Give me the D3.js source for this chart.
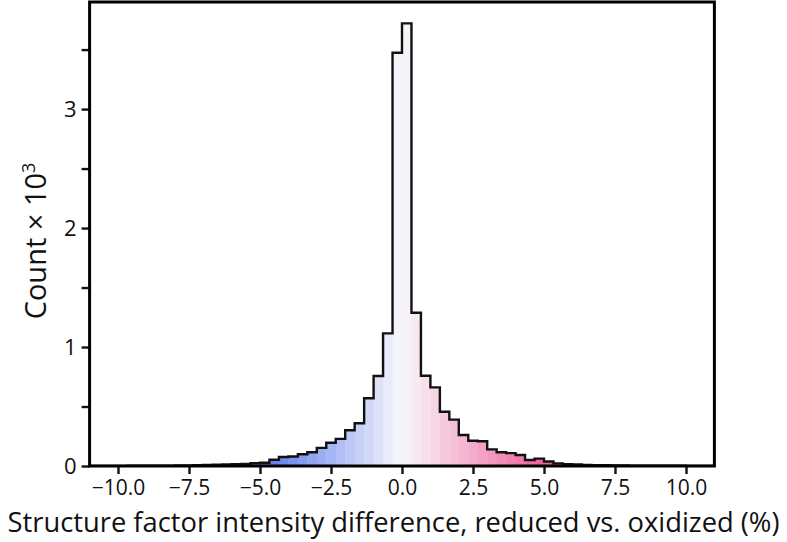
<!DOCTYPE html>
<html>
<head>
<meta charset="utf-8">
<script src="https://cdn.jsdelivr.net/npm/d3@7" charset="utf-8"></script>
<style>
  body { margin: 0; background: #fff; overflow: hidden; }
  text { font-family: "Open Sans", sans-serif; fill: #111; }
</style>
</head>
<body>
<div id="canvas"></div>
<script type="text/javascript">

// bin width is 1/3 %, bins run from -11 to 11
var binWidth = 1 / 3;

// counts for bins left of zero, nearest to zero first: [-1/3,0], [-2/3,-1/3], ...
var negCounts = [3473, 1115, 756, 570, 359, 300, 228, 195, 152, 116, 99, 80, 76, 53, 27, 24,
                 18, 15, 12, 10, 8, 6, 5, 4, 3, 3, 2, 2, 2, 1, 1, 1, 1];
// counts for bins right of zero, nearest to zero first: [0,1/3], [1/3,2/3], ...
var posCounts = [3720, 1288, 759, 661, 456, 390, 261, 212, 208, 140, 116, 108, 92, 50, 62, 38,
                 22, 15, 12, 9, 7, 6, 5, 4, 3, 3, 2, 2, 2, 2, 1, 1, 1];

var xTicks = [-10, -7.5, -5, -2.5, 0, 2.5, 5, 7.5, 10];
var yTicks = [0, 1000, 2000, 3000];
var yMinorTicks = [500, 1500, 2500, 3500];

var width = 787, height = 542;
var mLeft = 89.6, mRight = 714.4, mTop = 2, mBottom = 466;

// build bins from the arrays
var bins = [];
negCounts.forEach(function (c, j) {
    bins.push({x0: -(j + 1) * binWidth, x1: -j * binWidth, count: c});
});
posCounts.forEach(function (c, k) {
    bins.push({x0: k * binWidth, x1: (k + 1) * binWidth, count: c});
});
bins.sort(function (a, b) { return a.x0 - b.x0; });

var x = d3.scaleLinear().domain([-11, 11]).range([mLeft, mRight]);
var y = d3.scaleLinear().domain([0, 3900]).range([mBottom, mTop]);

var color = d3.scaleLinear()
    .domain([-5, 0, 5])
    .range(["#5474ea", "#f8f8fb", "#f0609a"])
    .interpolate(d3.interpolateRgb)
    .clamp(true);

var svg = d3.select("#canvas").append("svg")
    .attr("width", width)
    .attr("height", height);

// filled bins
svg.append("g").selectAll("rect")
    .data(bins)
    .enter().append("rect")
    .attr("x", function (d) { return x(d.x0); })
    .attr("width", function (d) { return x(d.x1) - x(d.x0) + 0.4; })
    .attr("y", function (d) { return y(d.count); })
    .attr("height", function (d) { return y(0) - y(d.count); })
    .style("fill", function (d) { return color((d.x0 + d.x1) / 2); });

// step outline
var pts = [[bins[0].x0, 0]];
bins.forEach(function (d) {
    pts.push([d.x0, d.count]);
    pts.push([d.x1, d.count]);
});
pts.push([bins[bins.length - 1].x1, 0]);

svg.append("path")
    .datum(pts)
    .attr("d", d3.line().x(function (d) { return x(d[0]); }).y(function (d) { return y(d[1]); }))
    .style("fill", "none")
    .style("stroke", "#111")
    .style("stroke-width", 2.4)
    .style("stroke-linejoin", "miter");

// x axis
var xAxis = svg.append("g")
    .attr("transform", "translate(0," + mBottom + ")")
    .call(d3.axisBottom(x).tickValues(xTicks).tickSize(8).tickPadding(6)
        .tickFormat(function (d) { return d3.format(".1f")(d); }));
xAxis.select(".domain").remove();
xAxis.selectAll("line").style("stroke", "#111").style("stroke-width", 2.4);
xAxis.selectAll("text").style("font-size", "21px").style("font-family", "Open Sans, sans-serif")
    .attr("fill", "#111");

// y axis
var yAxis = svg.append("g")
    .attr("transform", "translate(" + mLeft + ",0)")
    .call(d3.axisLeft(y).tickValues(yTicks).tickSize(8).tickPadding(5)
        .tickFormat(function (d) { return d / 1000; }));
yAxis.select(".domain").remove();
yAxis.selectAll("line").style("stroke", "#111").style("stroke-width", 2.4);
yAxis.selectAll("text").style("font-size", "22px").style("font-family", "Open Sans, sans-serif")
    .attr("fill", "#111");

var yMinor = svg.append("g")
    .attr("transform", "translate(" + mLeft + ",0)")
    .call(d3.axisLeft(y).tickValues(yMinorTicks).tickSize(8).tickFormat(""));
yMinor.select(".domain").remove();
yMinor.selectAll("line").style("stroke", "#111").style("stroke-width", 2.4);

// frame
svg.append("rect")
    .attr("x", mLeft)
    .attr("y", mTop)
    .attr("width", mRight - mLeft)
    .attr("height", mBottom - mTop)
    .style("fill", "none")
    .style("stroke", "#000")
    .style("stroke-width", 3);

// axis titles
svg.append("text")
    .attr("x", width / 2)
    .attr("y", 532)
    .attr("text-anchor", "middle")
    .attr("textLength", 772)
    .attr("lengthAdjust", "spacingAndGlyphs")
    .style("font-size", "27px")
    .text("Structure factor intensity difference, reduced vs. oxidized (%)");

var yTitle = svg.append("text")
    .attr("transform", "translate(46,241) rotate(-90)")
    .attr("text-anchor", "middle")
    .style("font-size", "29px");
yTitle.append("tspan").text("Count \u00d7 10");
yTitle.append("tspan").attr("dy", -11).style("font-size", "18px").text("3");

</script>
</body>
</html>
